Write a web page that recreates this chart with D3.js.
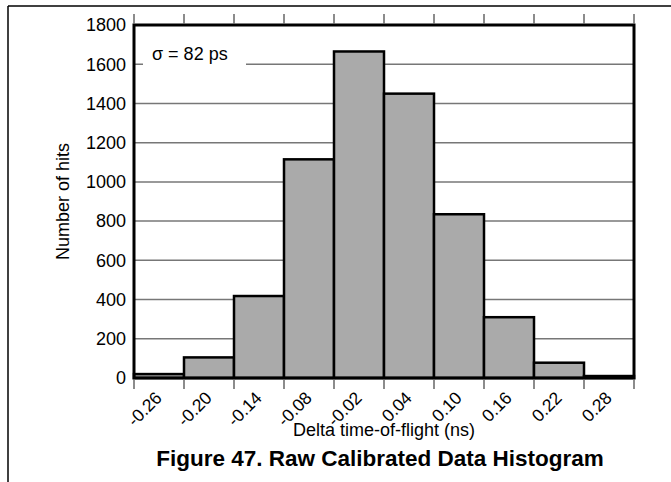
<!DOCTYPE html>
<html>
<head>
<meta charset="utf-8">
<script src="https://cdn.jsdelivr.net/npm/d3@7"></script>
<style>
  html, body { margin: 0; padding: 0; background: #fff; }
  svg { display: block; font-family: "Liberation Sans", Arial, Helvetica, sans-serif; }
</style>
</head>
<body>
<svg id="chart" width="671" height="482"></svg>
<script>
// ---- data ----
const binEdges = [-0.26, -0.20, -0.14, -0.08, -0.02, 0.04, 0.10, 0.16, 0.22, 0.28, 0.34];
const tickLabels = ["-0.26", "-0.20", "-0.14", "-0.08", "-0.02", "0.04", "0.10", "0.16", "0.22", "0.28"];
const counts = [20, 105, 418, 1115, 1665, 1450, 835, 310, 78, 10];
const yTicks = [0, 200, 400, 600, 800, 1000, 1200, 1400, 1600, 1800];
const sigmaText = "σ = 82 ps";
const xTitle = "Delta time-of-flight (ns)";
const yTitle = "Number of hits";
const caption = "Figure 47. Raw Calibrated Data Histogram";

// ---- layout ----
const svg = d3.select("#chart");
const pL = 134, pR = 634, pT = 25, pB = 378;

const x = d3.scaleLinear().domain([binEdges[0], binEdges[binEdges.length - 1]]).range([pL, pR]);
const y = d3.scaleLinear().domain([0, 1800]).range([pB, pT]);

// page frame lines
svg.append("line").attr("x1", 8).attr("x2", 671).attr("y1", 6).attr("y2", 6)
  .attr("stroke", "#000").attr("stroke-width", 1.5);
svg.append("line").attr("x1", 8).attr("x2", 8).attr("y1", 6).attr("y2", 482)
  .attr("stroke", "#000").attr("stroke-width", 1.5);

// gridlines
svg.append("g").selectAll("line").data(yTicks.filter(d => d > 0 && d < 1800)).join("line")
  .attr("x1", pL).attr("x2", pR)
  .attr("y1", d => y(d)).attr("y2", d => y(d))
  .attr("stroke", "#777").attr("stroke-width", 1.5);

// sigma label box (covers gridline)
svg.append("rect").attr("x", 143).attr("y", 44).attr("width", 103).attr("height", 28).attr("fill", "#fff");
svg.append("text").attr("x", 152).attr("y", 60).attr("font-size", 18).attr("fill", "#000").text(sigmaText);

// bars
const bins = counts.map((c, i) => ({ x0: binEdges[i], x1: binEdges[i + 1], c }));
svg.append("g").selectAll("rect").data(bins).join("rect")
  .attr("x", d => x(d.x0)).attr("width", d => x(d.x1) - x(d.x0))
  .attr("y", d => y(d.c)).attr("height", d => y(0) - y(d.c))
  .attr("fill", "#aaaaaa").attr("stroke", "#000").attr("stroke-width", 2.5);

// plot border
svg.append("rect").attr("x", pL).attr("y", pT).attr("width", pR - pL).attr("height", pB - pT)
  .attr("fill", "none").attr("stroke", "#000").attr("stroke-width", 3);

// top ticks
svg.append("g").selectAll("line").data(binEdges).join("line")
  .attr("x1", d => x(d)).attr("x2", d => x(d)).attr("y1", 14).attr("y2", pT - 1)
  .attr("stroke", "#666").attr("stroke-width", 1.5);
// bottom ticks
svg.append("g").selectAll("line").data(binEdges).join("line")
  .attr("x1", d => x(d)).attr("x2", d => x(d)).attr("y1", pB + 1).attr("y2", 389)
  .attr("stroke", "#666").attr("stroke-width", 1.5);

// y tick labels
svg.append("g").selectAll("text").data(yTicks).join("text")
  .attr("x", 126).attr("y", d => y(d)).attr("dy", "0.35em")
  .attr("text-anchor", "end").attr("font-size", 18).attr("fill", "#000")
  .text(d => d);

// x tick labels (rotated)
svg.append("g").selectAll("text").data(tickLabels).join("text")
  .attr("text-anchor", "end").attr("font-size", 17.5).attr("fill", "#000")
  .attr("transform", (d, i) => `translate(${x(binEdges[i]) + 29},${399}) rotate(-45)`)
  .text(d => d);

// axis titles
svg.append("text").attr("x", 384).attr("y", 436).attr("text-anchor", "middle")
  .attr("font-size", 18).attr("fill", "#000").text(xTitle);
svg.append("text").attr("transform", `translate(69,${(pT + pB) / 2}) rotate(-90)`)
  .attr("text-anchor", "middle").attr("font-size", 18).attr("fill", "#000").text(yTitle);

// caption
svg.append("text").attr("x", 380).attr("y", 466).attr("text-anchor", "middle")
  .attr("font-size", 22.5).attr("font-weight", "bold").attr("fill", "#000").text(caption);
</script>
</body>
</html>
